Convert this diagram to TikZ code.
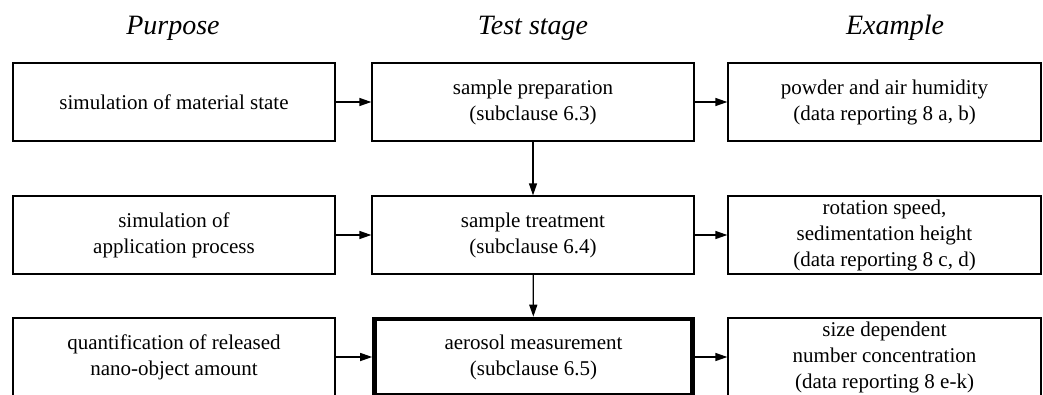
\documentclass[tikz,border=0pt]{standalone}
\usepackage{fontspec}
\setmainfont{Liberation Serif}
\usetikzlibrary{arrows.meta}
\begin{document}
\begin{tikzpicture}[x=1pt,y=-1pt,
  box/.style={draw, line width=1.3pt, inner sep=0pt, align=center, font=\fontsize{21}{26}\selectfont},
  hdr/.style={font=\fontsize{28}{32}\selectfont\itshape},
  arr/.style={-{Triangle[length=12pt,width=8pt]}, line width=1.3pt}]
\useasboundingbox (0,0) rectangle (1043,394);
\clip (0,0) rectangle (1043,394);
\node[hdr] (h1) at (173,28) {Purpose};
\node[hdr] (h2) at (533,28) {Test stage};
\node[hdr] (h3) at (895,28) {Example};
% row 1
\node[box, minimum width=322pt, minimum height=78pt] (p1) at (174,102) {simulation of material state};
\node[box, minimum width=322pt, minimum height=78pt] (t1) at (533,102) {sample preparation\\(subclause 6.3)};
\node[box, minimum width=313pt, minimum height=78pt] (e1) at (884.5,102) {powder and air humidity\\(data reporting 8 a, b)};
% row 2
\node[box, minimum width=322pt, minimum height=78pt] (p2) at (174,235) {simulation of\\application process};
\node[box, minimum width=322pt, minimum height=78pt] (t2) at (533,235) {sample treatment\\(subclause 6.4)};
\node[box, minimum width=313pt, minimum height=78pt] (e2) at (884.5,235) {rotation speed,\\sedimentation height\\(data reporting 8 c, d)};
% row 3
\node[box, minimum width=322pt, minimum height=78pt] (p3) at (174,357) {quantification of released\\nano-object amount};
\node[box, line width=4.6pt, minimum width=318pt, minimum height=76pt] (t3) at (533.5,357) {aerosol measurement\\(subclause 6.5)};
\node[box, minimum width=313pt, minimum height=78pt] (e3) at (884.5,357) {size dependent\\number concentration\\(data reporting 8 e-k)};
% arrows
\draw[arr] (p1) -- (t1);
\draw[arr] (t1) -- (e1);
\draw[arr] (p2) -- (t2);
\draw[arr] (t2) -- (e2);
\draw[arr] (p3) -- (t3);
\draw[arr] (t3) -- (e3);
\draw[arr] (t1) -- (t2);
\draw[arr] (t2) -- (t3);
\end{tikzpicture}
\end{document}
